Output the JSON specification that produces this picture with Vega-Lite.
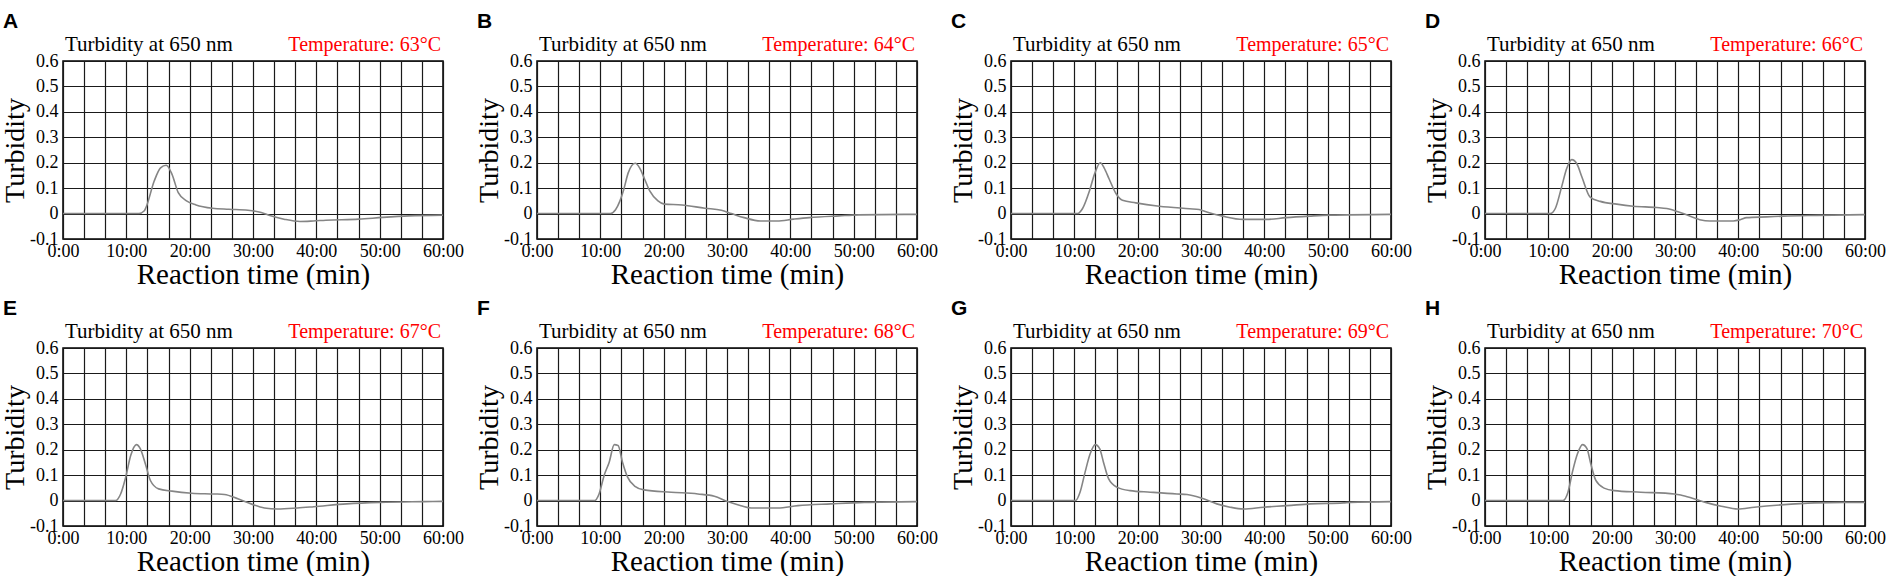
{
  "$schema": "https://vega.github.io/schema/vega-lite/v6.json",
  "padding": {"left": 0, "top": 10, "right": 0, "bottom": 0},
  "background": "white",
  "data": {
    "values": [
      {"p": "A", "temp": "Temperature: 63°C"},
      {"p": "B", "temp": "Temperature: 64°C"},
      {"p": "C", "temp": "Temperature: 65°C"},
      {"p": "D", "temp": "Temperature: 66°C"},
      {"p": "E", "temp": "Temperature: 67°C"},
      {"p": "F", "temp": "Temperature: 68°C"},
      {"p": "G", "temp": "Temperature: 69°C"},
      {"p": "H", "temp": "Temperature: 70°C"},

      {"p": "A", "t": 0, "v": 0}, {"p": "A", "t": 12.0, "v": 0}, {"p": "A", "t": 12.8, "v": 0.01},
      {"p": "A", "t": 13.1, "v": 0.024}, {"p": "A", "t": 14.4, "v": 0.128}, {"p": "A", "t": 15.4, "v": 0.18},
      {"p": "A", "t": 16.3, "v": 0.19}, {"p": "A", "t": 17.2, "v": 0.155}, {"p": "A", "t": 18.2, "v": 0.082},
      {"p": "A", "t": 19.5, "v": 0.05}, {"p": "A", "t": 21, "v": 0.034}, {"p": "A", "t": 23.6, "v": 0.021},
      {"p": "A", "t": 26.2, "v": 0.017}, {"p": "A", "t": 29.2, "v": 0.013}, {"p": "A", "t": 31.3, "v": 0.004},
      {"p": "A", "t": 32.8, "v": -0.009}, {"p": "A", "t": 34.9, "v": -0.022}, {"p": "A", "t": 37.4, "v": -0.031},
      {"p": "A", "t": 39.5, "v": -0.029}, {"p": "A", "t": 41.5, "v": -0.026}, {"p": "A", "t": 46.7, "v": -0.022},
      {"p": "A", "t": 50.5, "v": -0.015}, {"p": "A", "t": 54.6, "v": -0.009}, {"p": "A", "t": 60, "v": -0.006},

      {"p": "B", "t": 0, "v": 0}, {"p": "B", "t": 11.6, "v": 0}, {"p": "B", "t": 12.4, "v": 0.015},
      {"p": "B", "t": 13.1, "v": 0.05}, {"p": "B", "t": 13.7, "v": 0.095}, {"p": "B", "t": 14.4, "v": 0.16},
      {"p": "B", "t": 15.5, "v": 0.198}, {"p": "B", "t": 16.2, "v": 0.18}, {"p": "B", "t": 17, "v": 0.135},
      {"p": "B", "t": 17.8, "v": 0.089}, {"p": "B", "t": 19.1, "v": 0.05}, {"p": "B", "t": 20.1, "v": 0.037},
      {"p": "B", "t": 22.9, "v": 0.034}, {"p": "B", "t": 26.5, "v": 0.021}, {"p": "B", "t": 29.1, "v": 0.013},
      {"p": "B", "t": 30.7, "v": 0}, {"p": "B", "t": 32.7, "v": -0.016}, {"p": "B", "t": 35.3, "v": -0.029},
      {"p": "B", "t": 37.9, "v": -0.029}, {"p": "B", "t": 40.5, "v": -0.022}, {"p": "B", "t": 43, "v": -0.016},
      {"p": "B", "t": 47.7, "v": -0.009}, {"p": "B", "t": 50.8, "v": -0.005}, {"p": "B", "t": 58, "v": -0.003},
      {"p": "B", "t": 60, "v": -0.003},

      {"p": "C", "t": 0, "v": 0}, {"p": "C", "t": 10.5, "v": 0}, {"p": "C", "t": 11.3, "v": 0.02},
      {"p": "C", "t": 12.4, "v": 0.09}, {"p": "C", "t": 13.2, "v": 0.156}, {"p": "C", "t": 14.1, "v": 0.2},
      {"p": "C", "t": 14.7, "v": 0.18}, {"p": "C", "t": 15.5, "v": 0.136}, {"p": "C", "t": 16.6, "v": 0.078},
      {"p": "C", "t": 17.6, "v": 0.052}, {"p": "C", "t": 19.7, "v": 0.042}, {"p": "C", "t": 23.4, "v": 0.029},
      {"p": "C", "t": 28.2, "v": 0.019}, {"p": "C", "t": 29.7, "v": 0.016}, {"p": "C", "t": 31.3, "v": 0.003},
      {"p": "C", "t": 33.4, "v": -0.01}, {"p": "C", "t": 36.6, "v": -0.023}, {"p": "C", "t": 40.3, "v": -0.023},
      {"p": "C", "t": 43.4, "v": -0.016}, {"p": "C", "t": 47.1, "v": -0.01}, {"p": "C", "t": 50.3, "v": -0.006},
      {"p": "C", "t": 60, "v": -0.003},

      {"p": "D", "t": 0, "v": 0}, {"p": "D", "t": 10.3, "v": 0}, {"p": "D", "t": 11.1, "v": 0.02},
      {"p": "D", "t": 12.1, "v": 0.105}, {"p": "D", "t": 12.9, "v": 0.177}, {"p": "D", "t": 13.7, "v": 0.212},
      {"p": "D", "t": 14.5, "v": 0.196}, {"p": "D", "t": 15.3, "v": 0.144}, {"p": "D", "t": 16.6, "v": 0.065},
      {"p": "D", "t": 18.2, "v": 0.048}, {"p": "D", "t": 20.8, "v": 0.037}, {"p": "D", "t": 23.4, "v": 0.029},
      {"p": "D", "t": 27.1, "v": 0.024}, {"p": "D", "t": 28.7, "v": 0.02}, {"p": "D", "t": 31.3, "v": 0},
      {"p": "D", "t": 33.9, "v": -0.024}, {"p": "D", "t": 35.5, "v": -0.029}, {"p": "D", "t": 39.2, "v": -0.029},
      {"p": "D", "t": 40.3, "v": -0.024}, {"p": "D", "t": 41.3, "v": -0.016}, {"p": "D", "t": 44.5, "v": -0.013},
      {"p": "D", "t": 47.1, "v": -0.01}, {"p": "D", "t": 52.4, "v": -0.007}, {"p": "D", "t": 60, "v": -0.004},

      {"p": "E", "t": 0, "v": 0}, {"p": "E", "t": 8.3, "v": 0}, {"p": "E", "t": 9.1, "v": 0.026},
      {"p": "E", "t": 9.9, "v": 0.092}, {"p": "E", "t": 10.7, "v": 0.178}, {"p": "E", "t": 11.6, "v": 0.22},
      {"p": "E", "t": 12.2, "v": 0.204}, {"p": "E", "t": 13, "v": 0.145}, {"p": "E", "t": 13.8, "v": 0.079},
      {"p": "E", "t": 15.1, "v": 0.046}, {"p": "E", "t": 17.2, "v": 0.037}, {"p": "E", "t": 20.3, "v": 0.029},
      {"p": "E", "t": 23.9, "v": 0.026}, {"p": "E", "t": 25.5, "v": 0.024}, {"p": "E", "t": 27.6, "v": 0.007},
      {"p": "E", "t": 29.7, "v": -0.013}, {"p": "E", "t": 31.8, "v": -0.029}, {"p": "E", "t": 33.9, "v": -0.033},
      {"p": "E", "t": 37, "v": -0.029}, {"p": "E", "t": 39.6, "v": -0.024}, {"p": "E", "t": 44.8, "v": -0.013},
      {"p": "E", "t": 50, "v": -0.007}, {"p": "E", "t": 57, "v": -0.004}, {"p": "E", "t": 60, "v": -0.003},

      {"p": "F", "t": 0, "v": 0}, {"p": "F", "t": 9.1, "v": 0}, {"p": "F", "t": 9.8, "v": 0.026},
      {"p": "F", "t": 10.6, "v": 0.099}, {"p": "F", "t": 11.4, "v": 0.151}, {"p": "F", "t": 12.2, "v": 0.22},
      {"p": "F", "t": 12.8, "v": 0.217}, {"p": "F", "t": 13.5, "v": 0.151}, {"p": "F", "t": 14.3, "v": 0.092},
      {"p": "F", "t": 15.4, "v": 0.057}, {"p": "F", "t": 16.9, "v": 0.042}, {"p": "F", "t": 21.2, "v": 0.033},
      {"p": "F", "t": 25.4, "v": 0.026}, {"p": "F", "t": 28, "v": 0.017}, {"p": "F", "t": 30.1, "v": -0.004},
      {"p": "F", "t": 32.2, "v": -0.02}, {"p": "F", "t": 33.8, "v": -0.029}, {"p": "F", "t": 38, "v": -0.029},
      {"p": "F", "t": 41.2, "v": -0.02}, {"p": "F", "t": 46.4, "v": -0.013}, {"p": "F", "t": 51.7, "v": -0.007},
      {"p": "F", "t": 60, "v": -0.004},

      {"p": "G", "t": 0, "v": 0}, {"p": "G", "t": 10.2, "v": 0}, {"p": "G", "t": 10.9, "v": 0.033},
      {"p": "G", "t": 11.7, "v": 0.112}, {"p": "G", "t": 12.5, "v": 0.184}, {"p": "G", "t": 13.3, "v": 0.22},
      {"p": "G", "t": 14, "v": 0.204}, {"p": "G", "t": 14.6, "v": 0.151}, {"p": "G", "t": 15.4, "v": 0.086},
      {"p": "G", "t": 16.7, "v": 0.053}, {"p": "G", "t": 18.8, "v": 0.039}, {"p": "G", "t": 22, "v": 0.033},
      {"p": "G", "t": 26.2, "v": 0.026}, {"p": "G", "t": 27.8, "v": 0.024}, {"p": "G", "t": 30.4, "v": 0.007},
      {"p": "G", "t": 32.5, "v": -0.013}, {"p": "G", "t": 34.6, "v": -0.026}, {"p": "G", "t": 36.7, "v": -0.033},
      {"p": "G", "t": 39.9, "v": -0.026}, {"p": "G", "t": 43.6, "v": -0.02}, {"p": "G", "t": 47.3, "v": -0.013},
      {"p": "G", "t": 52.5, "v": -0.009}, {"p": "G", "t": 53.6, "v": -0.007}, {"p": "G", "t": 60, "v": -0.004},

      {"p": "H", "t": 0, "v": 0}, {"p": "H", "t": 12.3, "v": 0}, {"p": "H", "t": 13.1, "v": 0.033},
      {"p": "H", "t": 13.8, "v": 0.112}, {"p": "H", "t": 14.6, "v": 0.184}, {"p": "H", "t": 15.4, "v": 0.22},
      {"p": "H", "t": 16.1, "v": 0.204}, {"p": "H", "t": 16.7, "v": 0.145}, {"p": "H", "t": 17.5, "v": 0.079},
      {"p": "H", "t": 18.8, "v": 0.049}, {"p": "H", "t": 20.4, "v": 0.039}, {"p": "H", "t": 24.6, "v": 0.033},
      {"p": "H", "t": 29.9, "v": 0.026}, {"p": "H", "t": 30.9, "v": 0.022}, {"p": "H", "t": 33, "v": 0.007},
      {"p": "H", "t": 35.1, "v": -0.009}, {"p": "H", "t": 37.3, "v": -0.022}, {"p": "H", "t": 39.9, "v": -0.033},
      {"p": "H", "t": 42.5, "v": -0.026}, {"p": "H", "t": 46.7, "v": -0.017}, {"p": "H", "t": 52, "v": -0.009},
      {"p": "H", "t": 56.7, "v": -0.007}, {"p": "H", "t": 60, "v": -0.007}
    ]
  },
  "facet": {"field": "p", "type": "nominal", "title": null, "header": {"labels": false, "labelFontSize": 0, "labelPadding": 0, "title": null}},
  "columns": 4,
  "bounds": "flush",
  "spacing": {"row": 109, "column": 94},
  "resolve": {"axis": {"x": "independent", "y": "independent"}},
  "spec": {
    "width": 380,
    "height": 178,
    "layer": [
      {
        "transform": [{"filter": "isValid(datum.v)"}],
        "mark": {"type": "line", "color": "#858585", "strokeWidth": 1.6, "interpolate": "monotone"},
        "encoding": {
          "x": {
            "field": "t",
            "type": "quantitative",
            "scale": {"domain": [0, 60], "nice": false, "zero": false},
            "axis": {
              "title": "Reaction time (min)",
              "values": [0, 3.33333, 6.66667, 10, 13.33333, 16.66667, 20, 23.33333, 26.66667, 30, 33.33333, 36.66667, 40, 43.33333, 46.66667, 50, 53.33333, 56.66667, 60],
              "tickCount": 30,
              "labelExpr": "abs(datum.value - round(datum.value / 10) * 10) < 0.01 ? round(datum.value) + ':00' : ''",
              "labelPadding": 3,
              "titlePadding": 0,
              "titleFontSize": 29
            }
          },
          "y": {
            "field": "v",
            "type": "quantitative",
            "scale": {"domain": [-0.1, 0.6], "nice": false, "zero": false},
            "axis": {
              "title": "Turbidity",
              "values": [-0.1, 0, 0.1, 0.2, 0.3, 0.4, 0.5, 0.6],
              "tickCount": 12,
              "labelExpr": "datum.value == 0 ? '0' : replace(format(datum.value, '.1f'), '\u2212', '-')",
              "labelPadding": 5,
              "titlePadding": 0
            }
          }
        }
      },
      {
        "transform": [{"filter": "isValid(datum.temp)"}],
        "mark": {"type": "text", "align": "left", "baseline": "alphabetic", "dx": 2, "dy": -10, "font": "Liberation Serif", "fontSize": 21, "color": "black", "text": "Turbidity at 650 nm"},
        "encoding": {
          "x": {"datum": 0, "type": "quantitative"},
          "y": {"datum": 0.6, "type": "quantitative"}
        }
      },
      {
        "transform": [{"filter": "isValid(datum.temp)"}],
        "mark": {"type": "text", "align": "right", "baseline": "alphabetic", "dx": -2, "dy": -10, "font": "Liberation Serif", "fontSize": 20, "color": "#ff0000"},
        "encoding": {
          "x": {"datum": 60, "type": "quantitative"},
          "y": {"datum": 0.6, "type": "quantitative"},
          "text": {"field": "temp"}
        }
      },
      {
        "transform": [{"filter": "isValid(datum.temp)"}],
        "mark": {"type": "text", "align": "left", "baseline": "alphabetic", "dx": -60, "dy": -33, "font": "Liberation Sans", "fontWeight": "bold", "fontSize": 21, "color": "black"},
        "encoding": {
          "x": {"datum": 0, "type": "quantitative"},
          "y": {"datum": 0.6, "type": "quantitative"},
          "text": {"field": "p"}
        }
      }
    ]
  },
  "config": {
    "view": {"stroke": "black", "strokeWidth": 1.5},
    "header": {"labels": false, "labelFontSize": 0, "labelPadding": 0},
    "headerFacet": {"labels": false, "labelFontSize": 0, "labelPadding": 0},
    "axis": {
      "grid": true,
      "gridColor": "#1a1a1a",
      "gridOpacity": 1,
      "gridWidth": 1.2,
      "domain": false,
      "ticks": false,
      "labelFont": "Liberation Serif",
      "labelFontSize": 18,
      "labelColor": "black",
      "labelOverlap": false,
      "labelFlush": false,
      "labelBound": false,
      "titleFont": "Liberation Serif",
      "titleFontSize": 28,
      "titleFontWeight": "normal",
      "titleColor": "black"
    }
  }
}
